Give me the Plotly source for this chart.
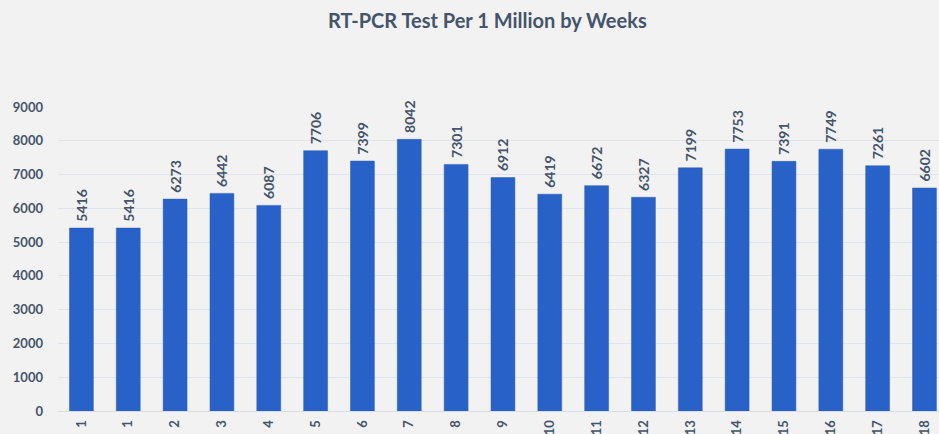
import plotly.graph_objects as go

# weekly RT-PCR tests per 1 million (week 1 appears twice in the source)
week_labels = ["1", "1", "2", "3", "4", "5", "6", "7", "8", "9",
               "10", "11", "12", "13", "14", "15", "16", "17", "18"]
tests_per_million = [5416, 5416, 6273, 6442, 6087, 7706, 7399, 8042, 7301, 6912,
                     6419, 6672, 6327, 7199, 7753, 7391, 7749, 7261, 6602]
y_ticks = [0, 1000, 2000, 3000, 4000, 5000, 6000, 7000, 8000, 9000]

positions = list(range(len(week_labels)))
text_color = "#44546a"

fig = go.Figure(
    go.Bar(
        x=positions,
        y=tests_per_million,
        text=tests_per_million,
        texttemplate="\u00a0%{text}",
        textposition="outside",
        textangle=-90,
        constraintext="none",
        textfont=dict(family="Lato", size=14, color=text_color, weight="bold"),
        cliponaxis=False,
        marker=dict(color="#2862c8", line=dict(color="#2a5bb5", width=0.5)),
    )
)

fig.update_layout(
    width=939,
    height=434,
    paper_bgcolor="#f2f2f2",
    plot_bgcolor="#f2f2f2",
    bargap=0.49,
    showlegend=False,
    margin=dict(l=58, r=0, t=107, b=23),
    title=dict(
        text="RT-PCR Test Per 1 Million by Weeks",
        x=0.519,
        xanchor="center",
        y=0.952,
        yanchor="middle",
        font=dict(family="Lato", size=20, color=text_color, weight="bold"),
    ),
    xaxis=dict(
        tickmode="array",
        tickvals=positions,
        ticktext=week_labels,
        tickangle=-90,
        range=[-0.5, 18.31],
        showgrid=False,
        showline=True,
        linecolor="#d9dde6",
        linewidth=1,
        ticks="",
        automargin=False,
        ticklabelstandoff=3,
        tickfont=dict(family="Lato", size=13, color=text_color, weight="bold"),
    ),
    yaxis=dict(
        range=[0, 9000],
        tickvals=y_ticks,
        showgrid=True,
        gridcolor="#dfe3ec",
        gridwidth=1,
        zeroline=False,
        automargin=False,
        ticks="",
        ticklabelstandoff=14,
        tickfont=dict(family="Lato", size=13, color=text_color, weight="bold"),
    ),
)

fig.write_html(
    "out.html",
    config={"displayModeBar": False},
    post_script="document.body.style.margin='0';",
)
